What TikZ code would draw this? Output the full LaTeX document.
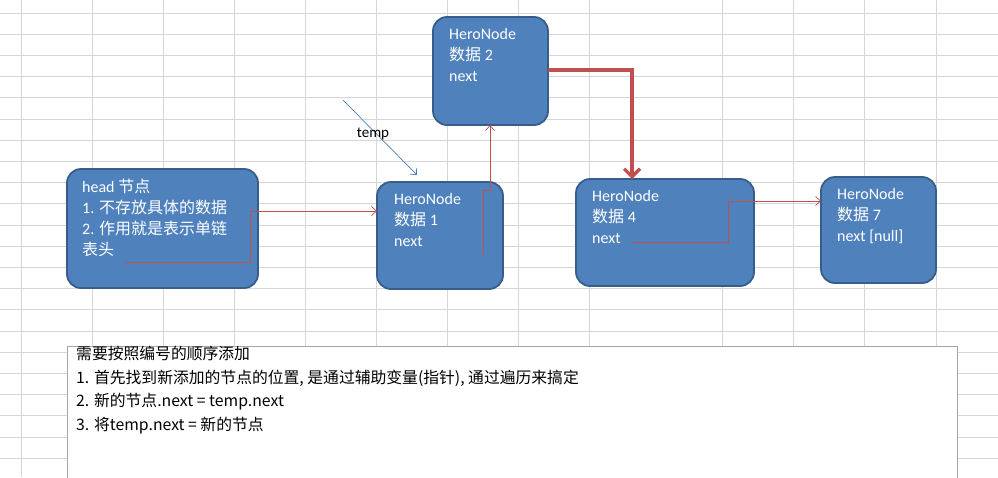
\documentclass[tikz,border=0pt]{standalone}
\usepackage{fontspec}
\setmainfont{Carlito}
\newfontfamily\cjk{Noto Sans CJK SC}
\usetikzlibrary{arrows.meta}
\definecolor{boxfill}{HTML}{4F81BD}
\definecolor{boxline}{HTML}{385D8A}
\definecolor{redline}{HTML}{C0504D}
\definecolor{gridc}{HTML}{D4D6DB}
\tikzset{
  hnode/.style={draw=boxline, line width=1.8pt, fill=boxfill, rounded corners=14pt},
  htext/.style={text=white, anchor=north west, align=left, font=\fontsize{16}{21}\selectfont, inner sep=0pt},
  thinred/.style={draw=redline, line width=0.7pt, -{Straight Barb[length=5pt,width=9pt]}},
  thickred/.style={draw=redline, line width=3.2pt, -{Straight Barb[length=8pt,width=16pt]}},
}
\begin{document}
\begin{tikzpicture}[x=1pt,y=-1pt]
\useasboundingbox (0,0) rectangle (998,477);
\fill[white] (0,0) rectangle (998,477);
% grid
\foreach \x in {21,92,163,234,305,376,447,518,589,722,793,864,936}
  \draw[gridc, line width=0.7pt] (\x,0) -- (\x,477);
\foreach \i in {0,...,22}
  \draw[gridc, line width=0.7pt] (0,{13+21.2*\i}) -- (998,{13+21.2*\i});
% text box
\fill[white] (67,346) rectangle (957,480);
\draw[gray!70, line width=0.7pt] (67,480) -- (67,346) -- (957,346) -- (957,480);
\node[anchor=north west, align=left, inner sep=0pt, font=\cjk\fontsize{15.8}{23.5}\selectfont] (desc) at (76,346)
 {需要按照编号的顺序添加\\1. 首先找到新添加的节点的位置, 是通过辅助变量(指针), 通过遍历来搞定\\2. 新的节点.next = temp.next\\3. 将temp.next = 新的节点};
% nodes
\draw[hnode] (67,169) rectangle (258,288);
\node[htext] (headt) at (82,179) {head {\cjk 节点}\\1. {\cjk 不存放具体的数据}\\2. {\cjk 作用就是表示单链}\\{\cjk 表头}};
\draw[hnode] (377,182) rectangle (503,289);
\node[htext] (n1t) at (394,193) {HeroNode\\{\cjk 数据} 1\\next};
\draw[hnode] (433,17) rectangle (548,125);
\node[htext] (n2t) at (449,28) {HeroNode\\{\cjk 数据} 2\\next};
\draw[hnode] (576,179) rectangle (754,286);
\node[htext] (n4t) at (592,190) {HeroNode\\{\cjk 数据} 4\\next};
\draw[hnode] (821,177) rectangle (936,283);
\node[htext] (n7t) at (837,188) {HeroNode\\{\cjk 数据} 7\\next [null]};
% connector endpoints
\coordinate (a0) at (125,262); \coordinate (a1) at (377,211);
\coordinate (b0) at (483,255); \coordinate (b1) at (490,125);
\coordinate (c0) at (548,70);  \coordinate (c1) at (632,179);
\coordinate (d0) at (632,242); \coordinate (d1) at (821,201);
\coordinate (t0) at (343,100); \coordinate (t1) at (417,175);
\draw[thinred] (a0) -- (250,262) -- (250,211) -- (a1);
\draw[thinred] (b0) -- (483,190) -- (490,190) -- (b1);
\draw[thickred] (c0) -- (632,70) -- (c1);
\draw[thinred] (d0) -- (728,242) -- (728,201) -- (d1);
\draw[draw=boxfill, line width=0.7pt, -{Straight Barb[length=5pt,width=9pt]}] (t0) -- (t1);
\node[font=\fontsize{15}{15}\selectfont, inner sep=0pt] (temp) at (373,134) {temp};
\end{tikzpicture}
\end{document}
